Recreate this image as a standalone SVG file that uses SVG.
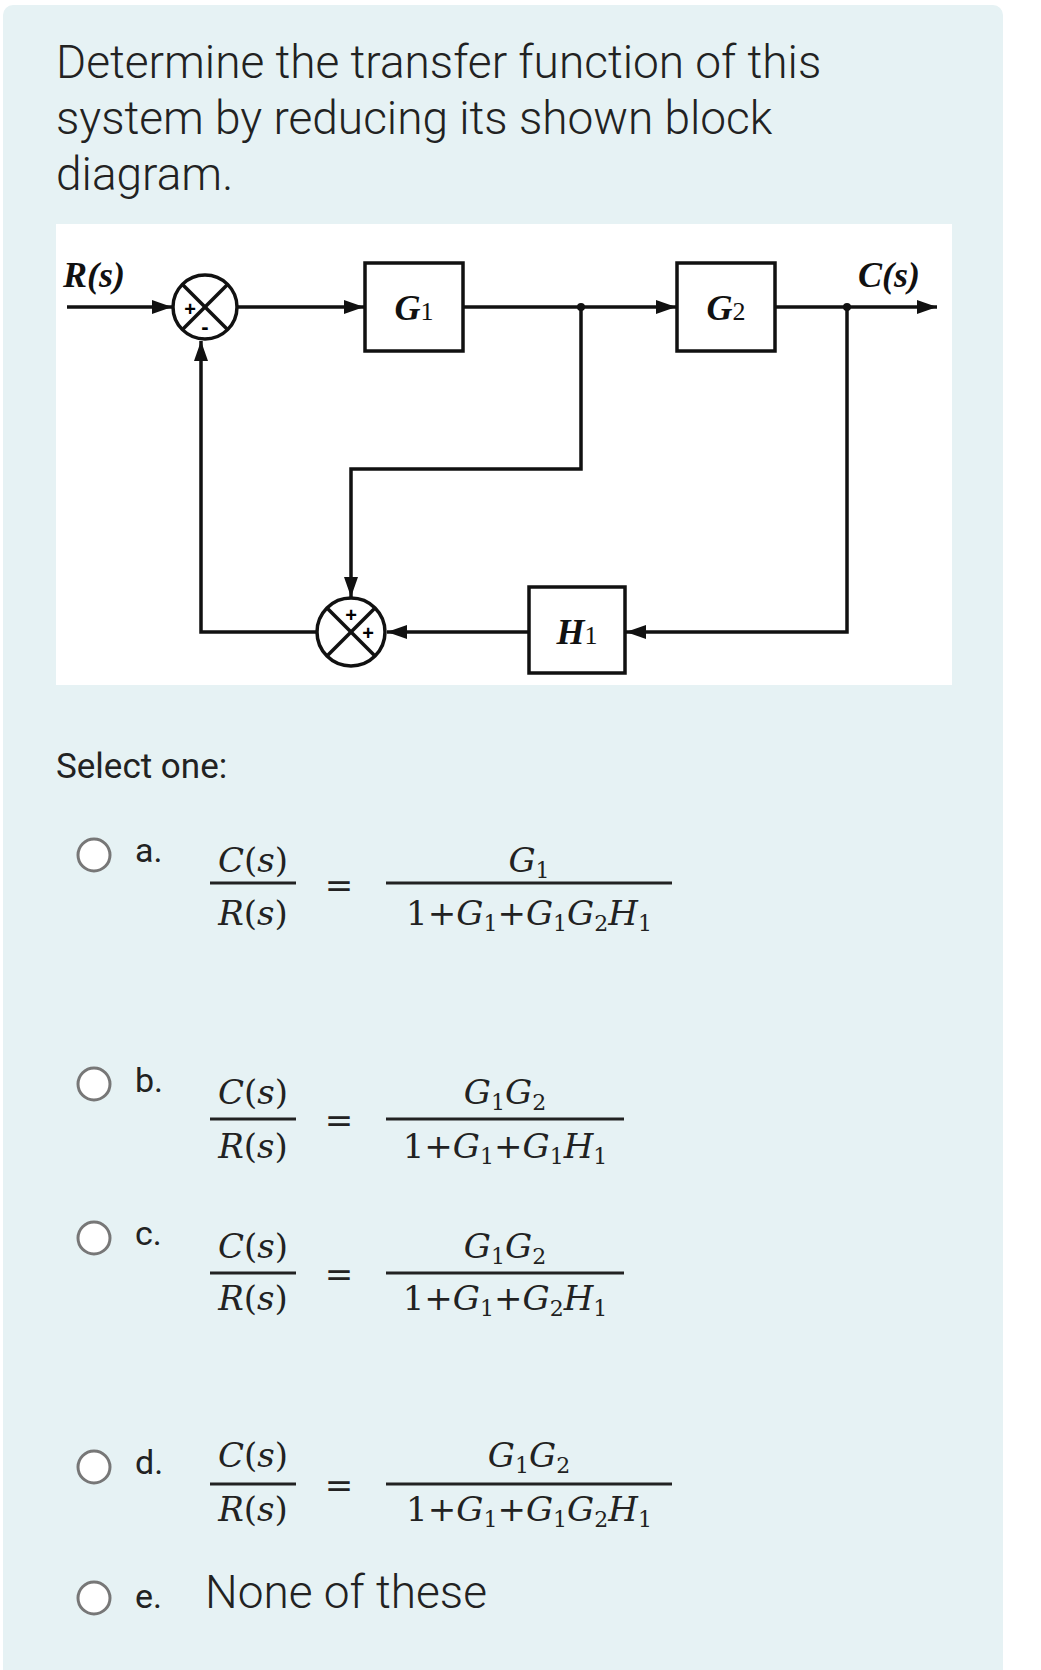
<svg xmlns="http://www.w3.org/2000/svg" width="1041" height="1670" viewBox="0 0 1041 1670">
<defs>
<marker id="arw" viewBox="0 0 10 10" refX="10" refY="5" markerWidth="20" markerHeight="14" markerUnits="userSpaceOnUse" orient="auto" preserveAspectRatio="none"><path d="M0,0 L10,5 L0,10 z" fill="#111"/></marker>
</defs>
<style>
.t{font-family:Roboto,"Liberation Sans",sans-serif;fill:#222}
.l{font-weight:300}
.m{font-family:"DejaVu Serif","Liberation Serif",serif;font-style:italic;font-size:34px;fill:#222}
.r{font-family:"DejaVu Serif","Liberation Serif",serif;font-style:normal}
.sb{font-size:22px;font-style:normal}
.bar{stroke:#222;stroke-width:3}
.radio{fill:#fff;stroke:#777;stroke-width:3}
.ln{stroke:#111;stroke-width:3.5;fill:none}
.blk{fill:#fff;stroke:#111;stroke-width:3.5}
.bl{font-family:"Liberation Serif",serif;font-style:italic;font-weight:bold;font-size:36px;fill:#111}
</style>
<rect x="3" y="5" width="1000" height="1680" rx="10" fill="#e6f2f4"/>
<text class="t l" x="56" y="78" font-size="46">Determine the transfer function of this</text>
<text class="t l" x="56" y="134" font-size="46">system by reducing its shown block</text>
<text class="t l" x="56" y="190" font-size="46">diagram.</text>
<rect x="56" y="224" width="896" height="461" fill="#fff"/>
<g id="connectors">
<line class="ln" x1="67" y1="307" x2="172" y2="307" marker-end="url(#arw)"/>
<line class="ln" x1="237" y1="307" x2="364" y2="307" marker-end="url(#arw)"/>
<line class="ln" x1="463" y1="307" x2="676" y2="307" marker-end="url(#arw)"/>
<line class="ln" x1="775" y1="307" x2="937" y2="307" marker-end="url(#arw)"/>
<polyline class="ln" points="581,307 581,469 351,469 351,597" marker-end="url(#arw)"/>
<polyline class="ln" points="847,307 847,632 626,632" marker-end="url(#arw)"/>
<line class="ln" x1="529" y1="632" x2="387" y2="632" marker-end="url(#arw)"/>
<polyline class="ln" points="317,632 201,632 201,341" marker-end="url(#arw)"/>
<circle cx="581" cy="307" r="4" fill="#111"/>
<circle cx="847" cy="307" r="4" fill="#111"/>
</g>
<g id="sum1">
<circle class="blk" cx="205" cy="307" r="32"/>
<line class="ln" x1="182" y1="284" x2="228" y2="330"/><line class="ln" x1="228" y1="284" x2="182" y2="330"/>
<text x="190" y="316" font-family="Liberation Sans" font-weight="bold" font-size="20" text-anchor="middle">+</text>
<text x="205" y="334" font-family="Liberation Sans" font-weight="bold" font-size="22" text-anchor="middle">-</text>
</g>
<g id="sum2">
<circle class="blk" cx="351" cy="632" r="34"/>
<line class="ln" x1="327" y1="608" x2="375" y2="656"/><line class="ln" x1="375" y1="608" x2="327" y2="656"/>
<text x="351" y="622" font-family="Liberation Sans" font-weight="bold" font-size="20" text-anchor="middle">+</text>
<text x="368" y="640" font-family="Liberation Sans" font-weight="bold" font-size="20" text-anchor="middle">+</text>
</g>
<g id="G1"><rect class="blk" x="365" y="263" width="98" height="88"/><text class="bl" x="414" y="320" text-anchor="middle">G<tspan font-size="26" font-style="normal" font-weight="normal">1</tspan></text></g>
<g id="G2"><rect class="blk" x="677" y="263" width="98" height="88"/><text class="bl" x="726" y="320" text-anchor="middle">G<tspan font-size="26" font-style="normal" font-weight="normal">2</tspan></text></g>
<g id="H1"><rect class="blk" x="529" y="587" width="96" height="86"/><text class="bl" x="577" y="644" text-anchor="middle">H<tspan font-size="26" font-style="normal" font-weight="normal">1</tspan></text></g>
<text class="bl" x="63" y="287" font-size="32">R(s)</text>
<text class="bl" x="858" y="287" font-size="32" font-weight="normal">C(s)</text>
<text class="t" x="56" y="778" font-size="35">Select one:</text>
<g id="optA">
<circle class="radio" cx="94" cy="855" r="16"/><text class="t" x="135" y="862" font-size="34">a.</text>
<text class="m" x="253" y="872" text-anchor="middle">C<tspan class="r">(</tspan>s<tspan class="r">)</tspan></text>
<line class="bar" x1="210" y1="883" x2="296" y2="883"/>
<text class="m" x="253" y="925" text-anchor="middle">R<tspan class="r">(</tspan>s<tspan class="r">)</tspan></text>
<text class="m r" x="339" y="897" text-anchor="middle">=</text>
<text class="m" x="529" y="872" text-anchor="middle">G<tspan class="sb" dy="6">1</tspan></text>
<line class="bar" x1="386" y1="883" x2="672" y2="883"/>
<text class="m" x="529" y="925" text-anchor="middle"><tspan class="r">1+</tspan>G<tspan class="sb" dy="6">1</tspan><tspan class="r" dy="-6">+</tspan>G<tspan class="sb" dy="6">1</tspan><tspan dy="-6">G</tspan><tspan class="sb" dy="6">2</tspan><tspan dy="-6">H</tspan><tspan class="sb" dy="6">1</tspan></text>
</g>
<g id="optB">
<circle class="radio" cx="94" cy="1084" r="16"/><text class="t" x="135" y="1092" font-size="34">b.</text>
<text class="m" x="253" y="1104" text-anchor="middle">C<tspan class="r">(</tspan>s<tspan class="r">)</tspan></text>
<line class="bar" x1="210" y1="1119" x2="296" y2="1119"/>
<text class="m" x="253" y="1158" text-anchor="middle">R<tspan class="r">(</tspan>s<tspan class="r">)</tspan></text>
<text class="m r" x="339" y="1132" text-anchor="middle">=</text>
<text class="m" x="505" y="1104" text-anchor="middle">G<tspan class="sb" dy="6">1</tspan><tspan dy="-6">G</tspan><tspan class="sb" dy="6">2</tspan></text>
<line class="bar" x1="386" y1="1119" x2="624" y2="1119"/>
<text class="m" x="505" y="1158" text-anchor="middle"><tspan class="r">1+</tspan>G<tspan class="sb" dy="6">1</tspan><tspan class="r" dy="-6">+</tspan>G<tspan class="sb" dy="6">1</tspan><tspan dy="-6">H</tspan><tspan class="sb" dy="6">1</tspan></text>
</g>
<g id="optC">
<circle class="radio" cx="94" cy="1238" r="16"/><text class="t" x="135" y="1245" font-size="34">c.</text>
<text class="m" x="253" y="1258" text-anchor="middle">C<tspan class="r">(</tspan>s<tspan class="r">)</tspan></text>
<line class="bar" x1="210" y1="1273" x2="296" y2="1273"/>
<text class="m" x="253" y="1310" text-anchor="middle">R<tspan class="r">(</tspan>s<tspan class="r">)</tspan></text>
<text class="m r" x="339" y="1286" text-anchor="middle">=</text>
<text class="m" x="505" y="1258" text-anchor="middle">G<tspan class="sb" dy="6">1</tspan><tspan dy="-6">G</tspan><tspan class="sb" dy="6">2</tspan></text>
<line class="bar" x1="386" y1="1273" x2="624" y2="1273"/>
<text class="m" x="505" y="1310" text-anchor="middle"><tspan class="r">1+</tspan>G<tspan class="sb" dy="6">1</tspan><tspan class="r" dy="-6">+</tspan>G<tspan class="sb" dy="6">2</tspan><tspan dy="-6">H</tspan><tspan class="sb" dy="6">1</tspan></text>
</g>
<g id="optD">
<circle class="radio" cx="94" cy="1467" r="16"/><text class="t" x="135" y="1474" font-size="34">d.</text>
<text class="m" x="253" y="1467" text-anchor="middle">C<tspan class="r">(</tspan>s<tspan class="r">)</tspan></text>
<line class="bar" x1="210" y1="1484" x2="296" y2="1484"/>
<text class="m" x="253" y="1521" text-anchor="middle">R<tspan class="r">(</tspan>s<tspan class="r">)</tspan></text>
<text class="m r" x="339" y="1497" text-anchor="middle">=</text>
<text class="m" x="529" y="1467" text-anchor="middle">G<tspan class="sb" dy="6">1</tspan><tspan dy="-6">G</tspan><tspan class="sb" dy="6">2</tspan></text>
<line class="bar" x1="386" y1="1484" x2="672" y2="1484"/>
<text class="m" x="529" y="1521" text-anchor="middle"><tspan class="r">1+</tspan>G<tspan class="sb" dy="6">1</tspan><tspan class="r" dy="-6">+</tspan>G<tspan class="sb" dy="6">1</tspan><tspan dy="-6">G</tspan><tspan class="sb" dy="6">2</tspan><tspan dy="-6">H</tspan><tspan class="sb" dy="6">1</tspan></text>
</g>
<g id="optE">
<circle class="radio" cx="94" cy="1598" r="16"/><text class="t" x="135" y="1608" font-size="34">e.</text>
<text class="t l" x="205" y="1608" font-size="46">None of these</text>
</g>
</svg>
